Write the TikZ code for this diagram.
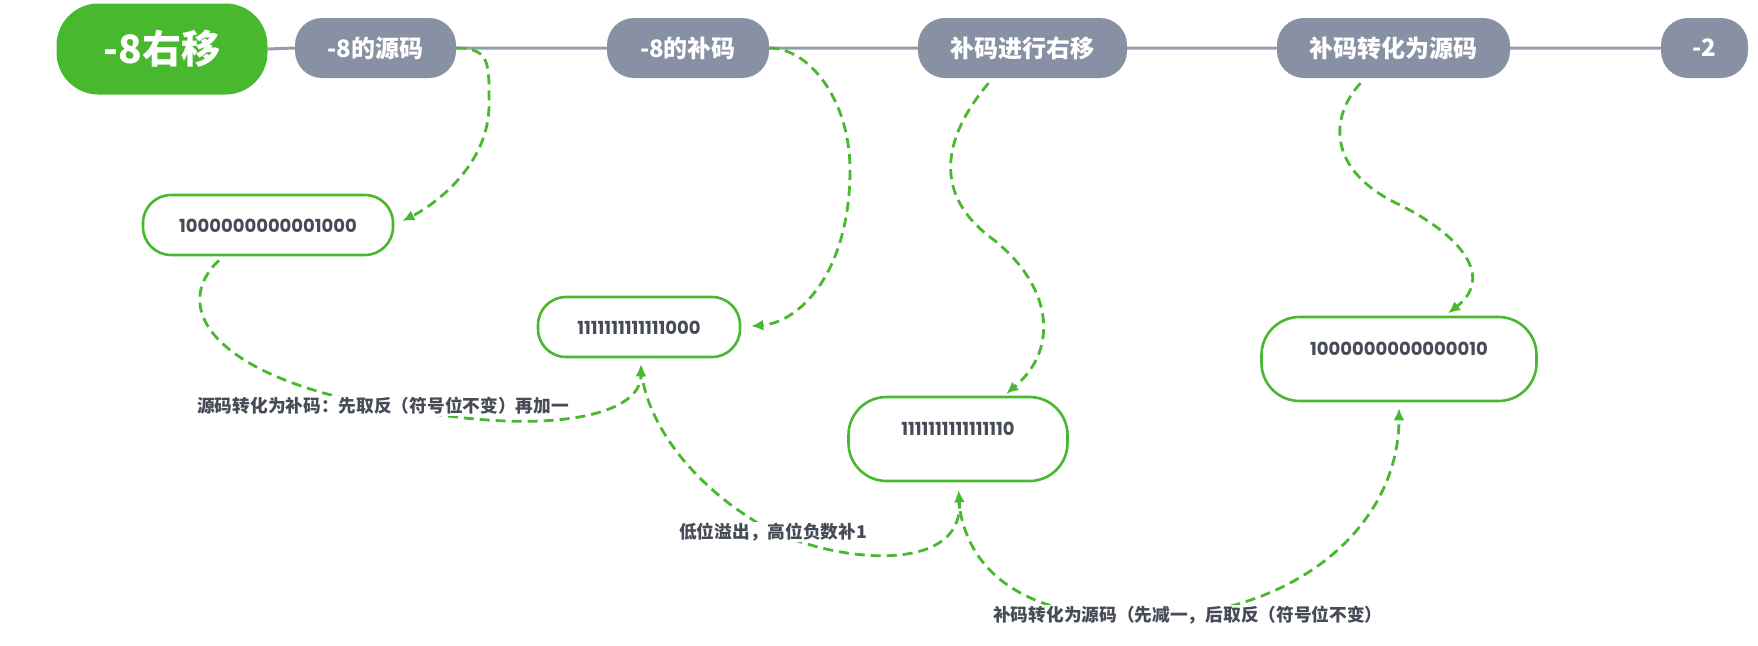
\documentclass[tikz,border=0pt]{standalone}
\usepackage{fontspec}
\setmainfont{Noto Sans CJK SC}
\newfontfamily\numfont{Poppins}[Numbers=Proportional]
\usetikzlibrary{arrows.meta}
\definecolor{mapgreen}{HTML}{48B82F}
\definecolor{topicgray}{HTML}{8891A3}
\definecolor{linegray}{HTML}{949DAE}
\definecolor{inkgray}{HTML}{464B57}

\begin{document}
\begin{tikzpicture}[x=1pt, y=-1pt, >={Latex[length=12pt,width=11pt]}]
    \useasboundingbox (0,0) rectangle (1758,645);

    % --- Estilos ---
    \tikzset{
        rootnode/.style={fill=mapgreen, rounded corners=42pt, minimum width=211pt, minimum height=91pt,
            inner sep=0pt, text=white, font=\fontsize{39}{44}\selectfont\bfseries},
        topic/.style={fill=topicgray, rounded corners=27pt, minimum height=60pt, inner sep=0pt,
            text=white, font=\fontsize{24}{28}\selectfont\bfseries},
        valbox/.style={draw=mapgreen, line width=2.6pt, fill=white, rounded corners=28pt,
            minimum height=60pt, inner sep=0pt, text height=14pt, text depth=0pt,
            text=inkgray, font=\numfont\fontsize{18}{22}\selectfont\bfseries},
        tallbox/.style={valbox, rounded corners=38pt, minimum height=84pt, text depth=22pt},
        note/.style={fill=white, inner sep=1pt, text=inkgray, font=\fontsize{17.7}{20}\selectfont\bfseries},
        flow/.style={->, draw=mapgreen, line width=2.8pt, dash pattern=on 10pt off 6pt},
        spine/.style={draw=linegray, line width=3pt}
    }

    % --- Tema central y subtemas ---
    \node[rootnode] (root) at (162,49) {-8右移};
    \node[topic, minimum width=161pt] (yuan)  at (375.5,48)  {-8的源码};
    \node[topic, minimum width=162pt] (bu)    at (688,48)    {-8的补码};
    \node[topic, minimum width=209pt] (shift) at (1022.5,48) {补码进行右移};
    \node[topic, minimum width=233pt] (zhuan) at (1393.5,48) {补码转化为源码};
    \node[topic, minimum width=87pt]  (res)   at (1704.5,48) {-2};

    \draw[spine] (root.east) -- (yuan.west) (yuan.east) -- (bu.west)
        (bu.east) -- (shift.west) (shift.east) -- (zhuan.west) (zhuan.east) -- (res.west);

    % --- Valores binarios ---
    \node[valbox, minimum width=250pt] (v1) at (268,225) {1000000000001000};
    \node[valbox, minimum width=202pt] (v2) at (639,327) {1111111111111000};
    \node[tallbox, minimum width=219pt] (v3) at (958,439) {1111111111111110};
    \node[tallbox, minimum width=275pt] (v4) at (1399,359) {1000000000000010};

    % puntos de paso
    \coordinate (w1) at (489,105);
    \coordinate (w2) at (850,170);
    \coordinate (w3) at (990,237);
    \coordinate (w4) at (1400,205);
    \coordinate (w5) at (441,415);
    \coordinate (w6) at (750,518);
    \coordinate (w7) at (1130,618);

    % --- Flechas discontinuas ---
    \draw[flow, shorten >=9pt] (yuan.east) .. controls +(35,0) and +(0,-40) .. (w1)
        .. controls +(0,60) and +(40,-20) .. (v1.east);
    \draw[flow, shorten >=10pt] (bu.east) .. controls +(40,0) and +(0,-70) .. (w2)
        .. controls +(0,100) and +(60,-5) .. (v2.east);
    \draw[flow, shorten >=3pt] ([xshift=-34pt,yshift=-5pt]shift.south) .. controls +(-48,57) and +(-55,-42) .. (w3)
        .. controls +(60,45) and +(58,-49) .. ([xshift=46pt]v3.north);
    \draw[flow, shorten >=4pt] ([xshift=-33pt,yshift=-5pt]zhuan.south) .. controls +(-30,32) and +(-75,-35) .. (w4)
        .. controls +(60,30) and +(50,-39) .. ([xshift=46pt]v4.north);
    \draw[flow, shorten >=6pt] ([xshift=-49pt,yshift=-4pt]v1.south) .. controls +(-54,51) and +(-221,-25) .. (w5)
        .. controls +(119,17) and +(0,55) .. ([xshift=2pt]v2.south);
    \draw[flow, shorten >=8pt] ([xshift=2pt,yshift=-9pt]v2.south) .. controls +(4,54) and +(-60,-38) .. (w6)
        .. controls +(60,42) and +(7,100) .. (v3.south);
    \draw[flow, shorten >=6pt] ([yshift=-13pt]v3.south) .. controls +(7,88) and +(-90,-3) .. (w7)
        .. controls +(170,2) and +(0,120) .. (v4.south);

    % --- Notas ---
    \node[note, anchor=west] (n1) at (196,406) {源码转化为补码：先取反（符号位不变）再加一};
    \node[note, anchor=west] (n2) at (678,532) {低位溢出，高位负数补1};
    \node[note, anchor=west] (n3) at (992,615) {补码转化为源码（先减一，后取反（符号位不变）};

\end{tikzpicture}
\end{document}
